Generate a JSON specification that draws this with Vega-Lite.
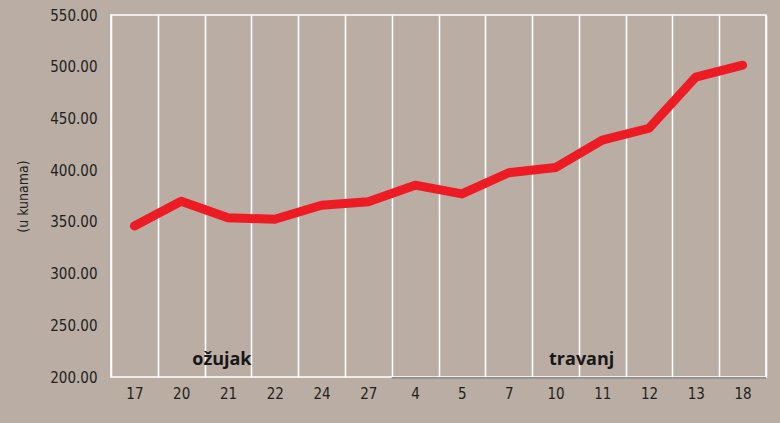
{
  "$schema": "https://vega.github.io/schema/vega-lite/v6.json",
  "width": 655,
  "height": 362,
  "autosize": {"type": "none"},
  "padding": {"left": 111, "top": 15, "right": 14, "bottom": 46},
  "background": "#b9ada4",
  "config": {
    "view": {"stroke": "white", "strokeWidth": 1.6, "fill": "#b9ada4"},
    "axis": {
      "labelFont": "DejaVu Sans Condensed",
      "labelFontSize": 15,
      "labelColor": "#231f20",
      "titleFont": "DejaVu Sans Condensed",
      "titleColor": "#231f20"
    }
  },
  "data": {
    "values": [
      {"dan": "17", "mjesec": "ožujak", "cijena": 346},
      {"dan": "20", "mjesec": "ožujak", "cijena": 370},
      {"dan": "21", "mjesec": "ožujak", "cijena": 354},
      {"dan": "22", "mjesec": "ožujak", "cijena": 352.5},
      {"dan": "24", "mjesec": "ožujak", "cijena": 366},
      {"dan": "27", "mjesec": "ožujak", "cijena": 369.5},
      {"dan": "4", "mjesec": "travanj", "cijena": 385.5},
      {"dan": "5", "mjesec": "travanj", "cijena": 377},
      {"dan": "7", "mjesec": "travanj", "cijena": 397.5},
      {"dan": "10", "mjesec": "travanj", "cijena": 402.5},
      {"dan": "11", "mjesec": "travanj", "cijena": 429},
      {"dan": "12", "mjesec": "travanj", "cijena": 440.5},
      {"dan": "13", "mjesec": "travanj", "cijena": 490},
      {"dan": "18", "mjesec": "travanj", "cijena": 501.5}
    ]
  },
  "encoding": {
    "x": {
      "field": "dan",
      "type": "nominal",
      "scale": {
        "domain": ["17", "20", "21", "22", "24", "27", "4", "5", "7", "10", "11", "12", "13", "18"],
        "paddingInner": 0,
        "paddingOuter": 0
      },
      "axis": {
        "title": null,
        "labelAngle": 0,
        "ticks": false,
        "domain": false,
        "grid": true,
        "gridColor": "white",
        "gridWidth": 1.6,
        "gridOpacity": 1,
        "tickBand": "extent",
        "labelPadding": 9
      }
    }
  },
  "layer": [
    {
      "transform": [{"filter": "datum.mjesec == 'travanj'"}],
      "mark": {"type": "bar", "color": "#8f8f8f", "width": {"band": 1}},
      "encoding": {
        "y": {"datum": 200, "type": "quantitative"},
        "y2": {"datum": 198.2}
      }
    },
    {
      "mark": {
        "type": "line",
        "color": "#ed1c24",
        "strokeWidth": 9,
        "strokeCap": "round",
        "strokeJoin": "round"
      },
      "encoding": {
        "y": {
          "field": "cijena",
          "type": "quantitative",
          "scale": {"domain": [200, 550], "nice": false, "zero": false},
          "axis": {
            "title": "(u kunama)",
            "titleFontSize": 14,
            "titleFontWeight": "normal",
            "titlePadding": 19,
            "values": [200, 250, 300, 350, 400, 450, 500, 550],
            "format": ".2f",
            "ticks": false,
            "domain": false,
            "grid": false,
            "labelPadding": 14
          }
        }
      }
    },
    {
      "data": {"values": [{"dan": "21", "tekst": "ožujak"}]},
      "mark": {
        "type": "text",
        "font": "Open Sans",
        "fontWeight": "bold",
        "fontSize": 18,
        "color": "#1a1718",
        "baseline": "middle"
      },
      "encoding": {
        "x": {"field": "dan", "type": "nominal", "bandPosition": 0.37},
        "y": {"datum": 216, "type": "quantitative"},
        "text": {"field": "tekst"}
      }
    },
    {
      "data": {"values": [{"dan": "11", "tekst": "travanj"}]},
      "mark": {
        "type": "text",
        "font": "Open Sans",
        "fontWeight": "bold",
        "fontSize": 18,
        "color": "#1a1718",
        "baseline": "middle"
      },
      "encoding": {
        "x": {"field": "dan", "type": "nominal", "bandPosition": 0.06},
        "y": {"datum": 216, "type": "quantitative"},
        "text": {"field": "tekst"}
      }
    }
  ]
}
